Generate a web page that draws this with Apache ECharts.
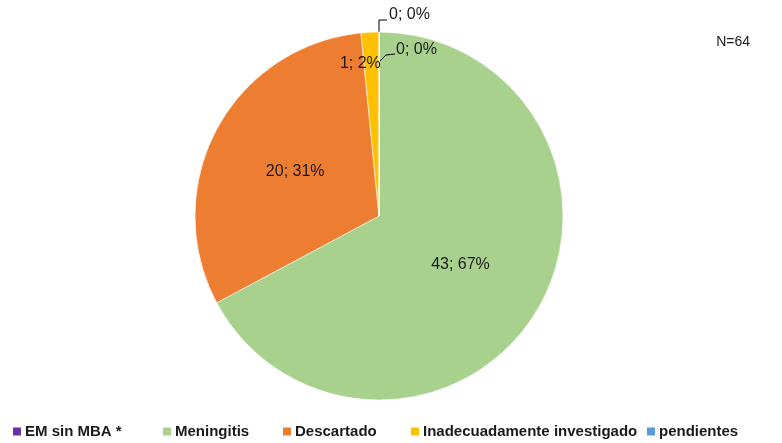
<!DOCTYPE html>
<html>
<head>
<meta charset="utf-8">
<script src="https://cdn.jsdelivr.net/npm/echarts@6/dist/echarts.min.js"></script>
<style>
  html, body { margin: 0; padding: 0; background: #fff; }
  #main { width: 782px; height: 443px; }
</style>
</head>
<body>
<div id="main"></div>
<script>
// categories, clockwise from 12 o'clock
var categories = ['EM sin MBA *', 'Meningitis', 'Descartado', 'Inadecuadamente investigado', 'pendientes'];
var counts = [0, 43, 20, 1, 0];
var colors = ['#7030A0', '#A9D18E', '#ED7D31', '#FFC000', '#5B9BD5'];
var totalLabel = 'N=64';

// legend icon x positions (one legend per item, like the original)
var legendLeft = [11, 161, 281, 409, 645];

var myChart = echarts.init(document.getElementById('main'));

var pieData = categories.map(function (name, i) {
    var item = { name: name, value: counts[i], itemStyle: { color: colors[i] } };
    if (counts[i] === 0) {
        item.label = { position: 'outside' };
        item.labelLine = { show: true };
    }
    return item;
});

var legends = categories.map(function (name, i) {
    return {
        data: [name],
        left: legendLeft[i],
        top: 424,
        padding: 0,
        itemWidth: 10,
        itemHeight: 10,
        itemGap: 0,
        icon: 'rect',
        textStyle: { fontFamily: 'Liberation Sans', fontSize: 15, fontWeight: 'bold', color: '#1a1a1a', padding: [0, 0, 0, -2] }
    };
});

var option = {
    animation: false,
    color: colors,
    title: {
        text: totalLabel,
        right: 27,
        top: 30,
        textStyle: { fontFamily: 'Liberation Sans', fontSize: 14, fontWeight: 'normal', color: '#1a1a1a' }
    },
    legend: legends,
    // leader for the label that sits inside the pie (echarts hides that one's own labelLine)
    graphic: [{
        type: 'polyline',
        z: 100,
        shape: { points: [[380, 61], [386, 55], [395, 54]] },
        style: { stroke: '#000', lineWidth: 1, fill: null }
    }],
    series: [{
        type: 'pie',
        center: [379, 216],
        radius: 184,
        startAngle: 90,
        clockwise: true,
        avoidLabelOverlap: false,
        stillShowZeroSum: true,
        itemStyle: { borderColor: '#fff', borderWidth: 0.6 },
        label: {
            show: true,
            position: 'inside',
            fontFamily: 'Liberation Sans',
            fontSize: 16,
            color: '#1a1a1a',
            formatter: function (p) {
                return p.value + '; ' + Math.round(p.percent) + '%';
            }
        },
        labelLine: { show: false, length: 10, length2: 6, lineStyle: { color: '#000', width: 1 } },
        labelLayout: function (p) {
            if (p.dataIndex === 3) {
                return { dy: -58, dx: -14 };
            }
            // zero slices: labels placed next to the 12 o'clock edge
            if (p.dataIndex === 0) {
                return { x: 389, y: 15, align: 'left', verticalAlign: 'middle',
                    labelLinePoints: [[379, 32], [379, 20], [387, 20]] };
            }
            if (p.dataIndex === 4) {
                return { x: 396, y: 50, align: 'left', verticalAlign: 'middle' };
            }
        },
        data: pieData
    }]
};
myChart.setOption(option);
window.onresize = myChart.resize;
</script>
</body>
</html>
